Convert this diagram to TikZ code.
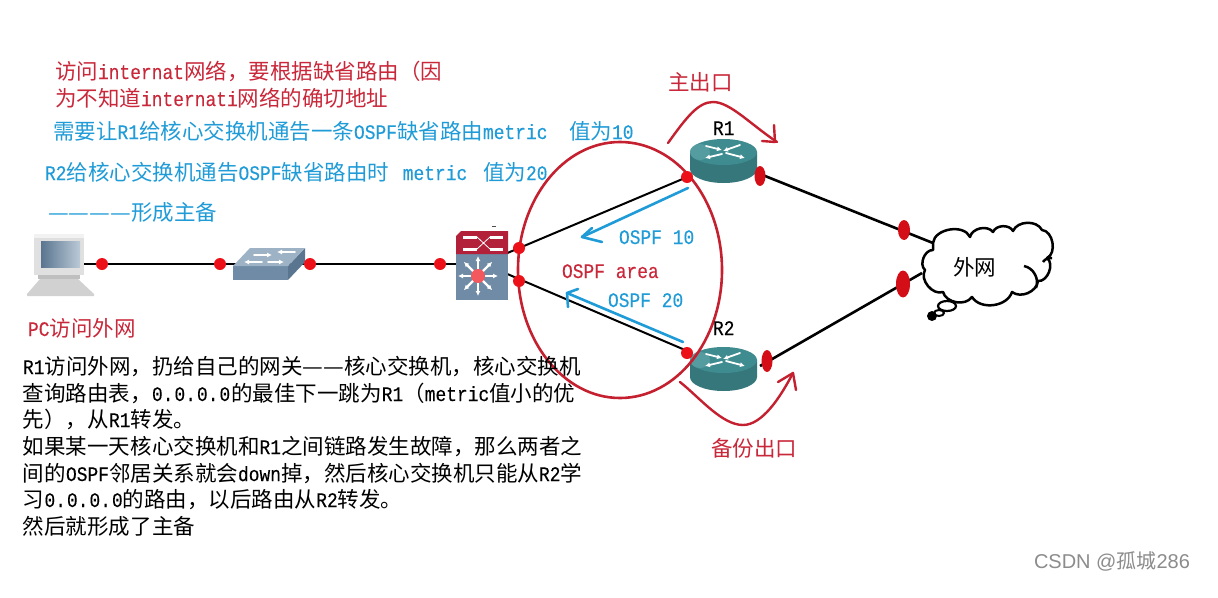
\documentclass[tikz,border=0pt]{standalone}
\usepackage{fontspec}
\usepackage{graphicx}
\setmainfont{Noto Sans CJK SC}
\newfontfamily\monof[Scale=0.96,FakeStretch=0.868,FakeBold=0.2]{Liberation Mono}
\newfontfamily\wmf{Liberation Sans}
\newcommand{\mm}[1]{{\monof #1}}
\newcommand{\dd}{\scalebox{1.08}[1]{—}}
\usetikzlibrary{shapes.geometric,arrows.meta}
\definecolor{tred}{HTML}{C9283A}
\definecolor{tblue}{HTML}{1F9BD7}
\definecolor{dred}{HTML}{EC1018}
\definecolor{ringr}{HTML}{C4202F}
\definecolor{teal1}{HTML}{3E8C90}
\definecolor{teal2}{HTML}{5FA3A8}
\definecolor{sw1}{HTML}{6F8BA6}
\definecolor{sw2}{HTML}{9DB2C5}
\definecolor{sw3}{HTML}{5A7590}
\definecolor{core}{HTML}{B2203A}
\tikzset{
 txt/.style={inner sep=0pt,outer sep=0pt,anchor=base west,font=\fontsize{21.5}{26}\selectfont},
 redt/.style={txt,text=tred},
 bluet/.style={txt,text=tblue},
 blackt/.style={txt,text=black},
 dot/.style={circle,fill=dred,draw=none,minimum size=12pt,inner sep=0pt},
 ring/.style={ellipse,draw=none,fill=dred!90!black,inner sep=0pt,minimum width=#1},
 link/.style={draw=black,line width=2pt},
 hand/.style={draw=ringr,line width=2.4pt,line cap=round,line join=round},
 barrow/.style={draw=tblue,line width=2.6pt,line cap=round,line join=round},
 wht/.style={draw=white,line width=1.8pt,line cap=round},
 wha/.style={wht,-{Latex[length=5pt,width=5pt]}},
}
\begin{document}
\begin{tikzpicture}[x=1pt,y=-1pt]
\useasboundingbox (0,0) rectangle (1218,597);
\fill[white] (0,0) rectangle (1218,597);
% anchor points for connectors
\coordinate (pc) at (84,264);
\coordinate (sw) at (262,264);
\coordinate (cr) at (482,264);
\coordinate (crA) at (505,254);
\coordinate (crB) at (505,273);
\coordinate (r1w) at (692,175);
\coordinate (r2w) at (692,353);
\coordinate (r1e) at (750,170);
\coordinate (r2e) at (760,366);
\coordinate (cla) at (933,243);
\coordinate (clb) at (922,273);
% connectors
\draw[link] (pc) -- (sw);
\draw[link] (sw) -- (cr);
\draw[link] (crA) -- (r1w);
\draw[link] (crB) -- (r2w);
\draw[link,line width=2.6pt] (r1e) -- (cla);
\draw[link,line width=2.6pt] (r2e) -- (clb);
% laptop
\fill[black!12] (34,234) rectangle (84,275);
\fill[black!5] (34,234) rectangle (84,238);
\fill[black!25] (38,275) rectangle (80,279);
\fill[black!18] (40,279) -- (78,279) -- (94,294) -- (94,296) -- (27,296) -- (27,294) -- cycle;
\fill[left color=sw3,right color=sw2!70!white] (41,241) rectangle (80,267);
% switch
\fill[sw1] (233,266) -- (288,266) -- (288,280) -- (233,280) -- cycle;
\fill[sw3] (288,266) -- (305,248) -- (305,262) -- (288,280) -- cycle;
\fill[sw2] (233,266) -- (250,248) -- (305,248) -- (288,266) -- cycle;
\draw[wha] (262,262) -- (244,262);
\draw[wha] (254,255) -- (272,255);
\draw[wha] (268,262) -- (284,262);
\draw[wha] (295,252) -- (277,252);
% core switch
\fill[sw1] (456,254) rectangle (508,300);
\fill[core] (456,236) -- (461,231) -- (508,231) -- (508,254) -- (456,254) -- cycle;
\draw[white,line width=3pt] (463,237) -- (477,237) (490,237) -- (503,237) (463,249) -- (477,249) (490,249) -- (503,249);
\draw[white,line width=.8pt] (477,237) -- (490,249) (477,249) -- (490,237);
\draw[black!70,line width=1pt] (492,226) -- (496,226);
\foreach \a in {0,45,...,315}{\draw[wha,line width=2.4pt] (478,276) -- ++(\a:20);}
\fill[dred!70!white] (478,276) circle (7);
% routers
\foreach \cy/\nm in {149/a,357/b}{
 \fill[teal1!85!black] (690,\cy+3) -- (690,\cy+20) arc[start angle=180,end angle=360,x radius=33.5,y radius=-14] -- (757,\cy+3) -- cycle;
 \fill[teal1] (723.5,\cy+3) ellipse [x radius=33.5,y radius=13];
 \fill[teal2,opacity=.7] (700,\cy+3) ellipse [x radius=10,y radius=8];
 \draw[wha] (722,\cy+5) -- (705,\cy+9);
 \draw[wha] (740,\cy-4) -- (723,\cy+2);
 \draw[wha] (706,\cy-3) -- (722,\cy+1);
 \draw[wha] (726,\cy+4) -- (745,\cy+9);
}
% OSPF area
\draw[hand,line width=2.6pt] (620,270) ellipse [x radius=102,y radius=128];
% dots
\node[dot] (d1) at (102,264) {};
\node[dot] (d2) at (220,264) {};
\node[dot] (d3) at (310,264) {};
\node[dot] (d4) at (440,264) {};
\node[dot] (d5) at (519,248) {};
\node[dot] (d6) at (519,281) {};
\node[dot] (d7) at (687,177) {};
\node[dot] (d8) at (687,353) {};
% rings
\node[ring=11pt,minimum height=20pt] (m1) at (760,176) {};
\node[ring=12pt,minimum height=20pt] (m2) at (904,230) {};
\node[ring=14pt,minimum height=27pt] (m3) at (903,284) {};
\node[ring=11pt,minimum height=22pt] (m4) at (767,361) {};
% cloud
\draw[black,line width=2.5pt,fill=white,line join=round]
 (933,243) to[bend left=75] (970,237) to[bend left=65] (993,232) to[bend left=65] (1013,231)
 to[bend left=65] (1042,230) to[bend left=75] (1047,258) to[bend left=75] (1038,281)
 to[bend left=60] (1012,292) to[bend left=65] (972,297) to[bend left=65] (943,292)
 to[bend left=70] (925,270) to[bend left=70] (933,250) -- cycle;
\draw[black,line width=2.5pt] (1043,262) to[bend left=30] (1052,258);
\draw[black,line width=2.5pt] (1024,266) to[bend left=50] (1036,288);
\draw[black,line width=2.2pt,fill=white] (947,306) ellipse [x radius=9,y radius=5];
\draw[black,line width=2pt,fill=white] (939,313) ellipse [x radius=5,y radius=3];
\fill[black] (932,316) circle (5);
% hand arrows
\path[hand] (668,143) .. controls (686,118) and (698,102) .. (713,102) .. controls (730,102) and (750,124) .. (777,142);
\path[hand] (774,125) -- (775,142) -- (762,141);
\path[hand] (680,382) .. controls (700,398) and (722,425) .. (743,425) .. controls (762,425) and (780,398) .. (793,373);
\path[hand] (778,382) -- (793,373) -- (796,390);
% blue arrows
\path[barrow] (688,188) -- (582,237);
\path[barrow] (592,228) -- (582,237) -- (602,242);
\path[barrow] (683,342) -- (567,293);
\path[barrow] (578,289) -- (567,293) -- (568,307);
% top text
\node[redt] (t1) at (55,79) {访问\mm{internat}网络，要根据缺省路由（因};
\node[redt] (t2) at (55,106) {为不知道\mm{internati}网络的确切地址};
\node[bluet] (t3) at (53,139) {需要让\mm{R1}给核心交换机通告一条\mm{OSPF}缺省路由\mm{metric\ \ }值为\mm{10}};
\node[bluet] (t4) at (45,180) {\mm{R2}给核心交换机通告\mm{OSPF}缺省路由时\kern3pt\mm{\ metric\ }\kern5pt 值为\mm{20}};
\node[bluet] (t5) at (48,220) {\dd\dd\dd\dd 形成主备};
\node[redt] (t6) at (28,336) {\mm{PC}访问外网};
% body
\node[blackt] (b1) at (23,374) {\mm{R1}访问外网，扔给自己的网关\dd\dd 核心交换机，核心交换机};
\node[blackt] (b2) at (23,401) {查询路由表，\mm{0.\kern1pt 0.\kern1pt 0.\kern1pt 0}\kern1pt 的最佳下一跳为\mm{R1}（\mm{metric}值小的优};
\node[blackt] (b3) at (23,427) {先），从\mm{R1}转发。};
\node[blackt] (b4) at (23,454) {如果某一天核心交换机和\mm{R1}之间链路发生故障，那么两者之};
\node[blackt] (b5) at (23,481) {间的\mm{OSPF}邻居关系就会\mm{down}掉，然后核心交换机只能从\mm{R2}学};
\node[blackt] (b6) at (23,507) {习\mm{0.\kern1pt 0.\kern1pt 0.\kern1pt 0}的路由，以后路由从\mm{R2}转发。};
\node[blackt] (b7) at (23,534) {然后就形成了主备};
% labels
\node[redt] (l1) at (668,90) {主出口};
\node[redt] (l2) at (711,456) {备份出口};
\node[bluet] (l3) at (619,244) {\mm{OSPF 10}};
\node[bluet] (l4) at (608,307) {\mm{OSPF 20}};
\node[redt] (l5) at (562,278) {\mm{OSPF area}};
\node[blackt] (l6) at (713,135) {\mm{R1}};
\node[blackt] (l7) at (713,335) {\mm{R2}};
\node[blackt] (l8) at (953,275) {外网};
\node[txt,text=black!45,font=\fontsize{20}{24}\selectfont] (wm) at (1034,568) {{\wmf CSDN @}孤城{\wmf 286}};
\end{tikzpicture}
\end{document}
